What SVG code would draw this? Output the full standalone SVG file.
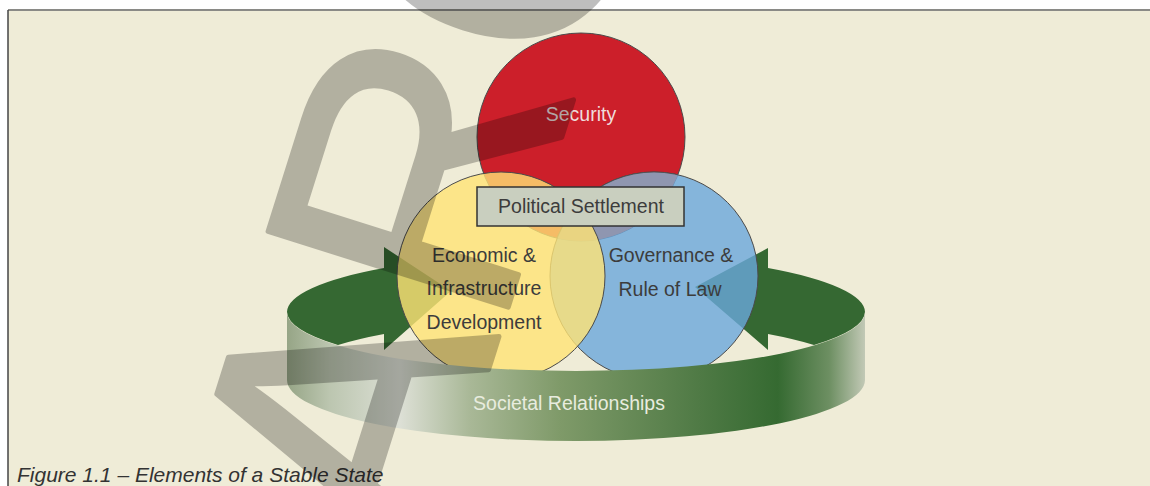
<svg xmlns="http://www.w3.org/2000/svg" width="1150" height="486" viewBox="0 0 1150 486">
<defs>
<style>
.lbl{font-family:"Liberation Sans",Arial,sans-serif;font-size:19.5px;fill:#3c3c3c;text-anchor:middle}
.light{fill:#efdcdc}
.soc{fill:#e8ecdf}
.circ{stroke:#4a4a4a;stroke-width:1}
.arrow{fill:#356832}
.cap{font-family:"Liberation Sans",Arial,sans-serif;font-size:21px;font-style:italic;fill:#333}
.wm{font-family:"Liberation Sans",Arial,sans-serif;font-size:366px;fill:#000;stroke:#000;stroke-width:5;stroke-linejoin:round}
</style>
<linearGradient id="ribbonGrad" gradientUnits="userSpaceOnUse" x1="287" y1="0" x2="865" y2="0">
<stop offset="0" stop-color="#96a586"/>
<stop offset="0.074" stop-color="#bcc6b0"/>
<stop offset="0.195" stop-color="#dde0d6"/>
<stop offset="0.316" stop-color="#a9b897"/>
<stop offset="0.472" stop-color="#7f9a69"/>
<stop offset="0.714" stop-color="#4f7a45"/>
<stop offset="0.849" stop-color="#356a31"/>
<stop offset="0.938" stop-color="#6d8f62"/>
<stop offset="1" stop-color="#c2c9b6"/>
</linearGradient>
<clipPath id="redClip"><circle cx="581" cy="137" r="104"/></clipPath>
</defs>
<rect x="0" y="0" width="1150" height="486" fill="#ffffff"/>
<rect x="8" y="10" width="1142" height="476" fill="#efecd7"/>
<line x1="8" y1="10" x2="1150" y2="10" stroke="#8a8a86" stroke-width="2"/>
<line x1="8" y1="10" x2="8" y2="486" stroke="#444" stroke-width="1.5"/>

<g id="connectors">
<path class="arrow" d="M287,312 A289,59 0 0 1 384,268 L384,247 L451,291 L384,350 L384,334 A289,61 0 0 0 338,345 A289,59 0 0 1 287,312 Z"/>
<path class="arrow" d="M865,312 A289,59 0 0 0 768,268 L768,248 L695,287 L768,350 L768,334 A289,61 0 0 1 814,345 A289,59 0 0 0 865,312 Z"/>
</g>

<g id="security">
<circle class="circ" cx="581" cy="137" r="104" fill="#cc1f2a"/>
<text class="lbl light" x="581" y="121">Security</text>
</g>

<g id="governance">
<circle class="circ" cx="654" cy="276" r="104" fill="#6aa7dc" fill-opacity="0.8"/>
<circle cx="654" cy="276" r="104" fill="#8f96b0" clip-path="url(#redClip)" stroke="#4a4a4a" stroke-width="0.8"/>
<text class="lbl" x="671" y="262">Governance &amp;</text>
<text class="lbl" x="670" y="296">Rule of Law</text>
</g>

<g id="economic">
<circle class="circ" cx="501" cy="276" r="104" fill="#ffe376" fill-opacity="0.8"/>
<text class="lbl" x="484" y="262">Economic &amp;</text>
<text class="lbl" x="484" y="295">Infrastructure</text>
<text class="lbl" x="484" y="329">Development</text>
</g>

<g id="societal">
<path d="M287,312 A289,59 0 0 0 865,312 L865,380 A289,61 0 0 1 287,380 Z" fill="url(#ribbonGrad)"/>
<text class="lbl soc" x="569" y="410">Societal Relationships</text>
</g>

<g id="political">
<rect x="477" y="187" width="207" height="39" fill="#c9cfbf" stroke="#333" stroke-width="1.5"/>
<text class="lbl" x="581" y="213">Political Settlement</text>
</g>

<g id="caption">
<text class="cap" x="17" y="482">Figure 1.1 – Elements of a Stable State</text>
</g>

<g id="watermark" opacity="0.25">
<text class="wm" transform="translate(513,292) rotate(-72.5)" x="-290" y="0">ARC</text>
</g>
</svg>
